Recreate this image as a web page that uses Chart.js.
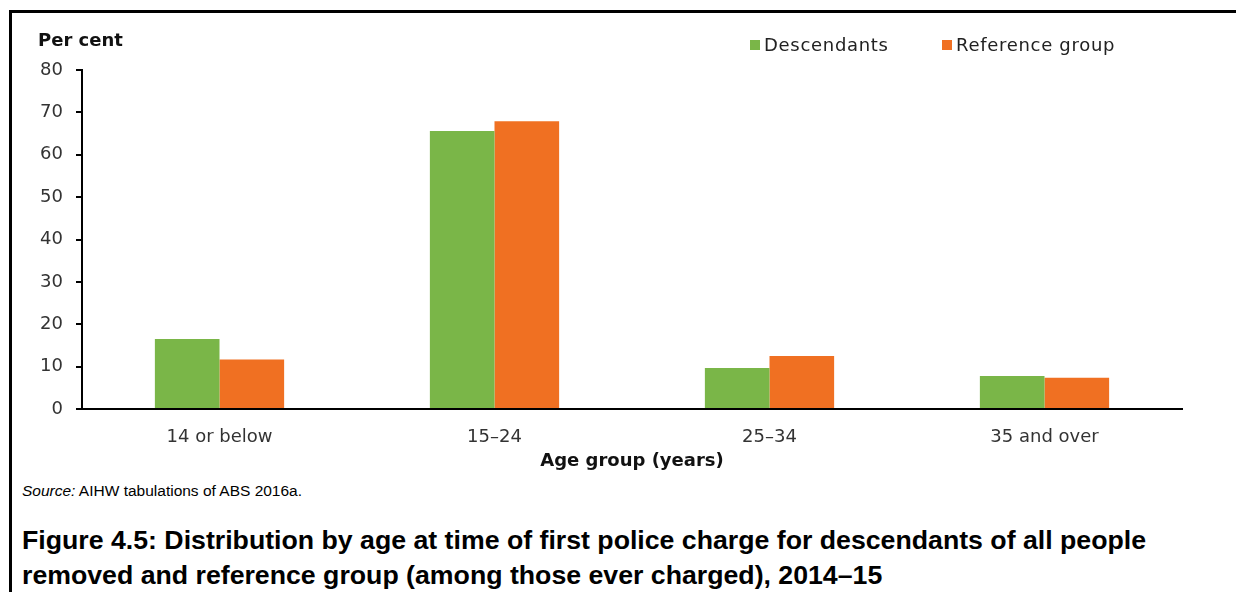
<!DOCTYPE html>
<html>
<head>
<meta charset="utf-8">
<script src="https://cdn.jsdelivr.net/npm/chart.js@4"></script>
<style>
  body { margin: 0; background: #fff; width: 1236px; height: 592px; overflow: hidden; position: relative; }
  .frame { position: absolute; left: 9px; top: 10px; width: 1240px; height: 600px; border-top: 3px solid #000; border-left: 3px solid #000; }
  #chartBox { position: absolute; left: 0; top: 0; width: 1236px; height: 480px; }
  .ylab { position: absolute; left: 38px; top: 29px; font: bold 18px "DejaVu Sans", sans-serif; color: #111; }
  .legend { position: absolute; top: 34px; font: 18px "DejaVu Sans", sans-serif; letter-spacing: 0.7px; color: #222; }
  .legend span.box { display: inline-block; width: 10px; height: 10px; margin-right: 4px; vertical-align: 1px; }
  .source { position: absolute; left: 22px; top: 482px; font: 15.5px "Liberation Sans", Arial, sans-serif; color: #000; }
  .caption { position: absolute; left: 22px; top: 523px; white-space: nowrap; font: bold 26.7px/35px "Liberation Sans", Arial, sans-serif; color: #000; }
</style>
</head>
<body>
<div class="frame"></div>
<div id="chartBox"><canvas id="myChart" width="1236" height="480"></canvas></div>
<div class="ylab">Per cent</div>
<div class="legend" style="left:750px"><span class="box" style="background:#7ab648"></span>Descendants</div>
<div class="legend" style="left:942px"><span class="box" style="background:#f07022"></span>Reference group</div>
<div class="source"><i>Source:</i> AIHW tabulations of ABS 2016a.</div>
<div class="caption">Figure 4.5: Distribution by age at time of first police charge for descendants of all people<br>removed and reference group (among those ever charged), 2014–15</div>
<script>
// 연령대별 첫 기소 비율
const ageGroups = ["14 or below", "15–24", "25–34", "35 and over"];
const descendants = [16.5, 65.6, 9.7, 7.8];
const referenceGroup = [11.7, 67.9, 12.5, 7.4];
const yTicks = [0, 10, 20, 30, 40, 50, 60, 70, 80];

const greenColor = "#7ab648";
const orangeColor = "#f07022";

const ctx = document.querySelector("#myChart").getContext("2d");
const myChart = new Chart(ctx, {
  type: "bar",
  data: {
    labels: ageGroups,
    datasets: [
      {
        label: "Descendants",
        data: descendants,
        backgroundColor: greenColor,
        categoryPercentage: 0.47,
        barPercentage: 1,
      },
      {
        label: "Reference group",
        data: referenceGroup,
        backgroundColor: orangeColor,
        categoryPercentage: 0.47,
        barPercentage: 1,
      },
    ],
  },
  options: {
    responsive: false,
    animation: false,
    devicePixelRatio: 1,
    layout: { padding: { left: 0, top: 70, right: 54, bottom: 8 } },
    plugins: {
      legend: { display: false },
      tooltip: { enabled: false },
    },
    scales: {
      x: {
        grid: { display: false },
        border: { display: true, color: "#000", width: 2 },
        ticks: {
          padding: 10,
          color: "#333",
          font: { family: "DejaVu Sans", size: 18 },
        },
        title: {
          display: true,
          text: "Age group (years)",
          color: "#111",
          padding: { top: 0, bottom: 0 },
          font: { family: "DejaVu Sans", size: 18, weight: "bold" },
        },
        afterFit: (scale) => {
          scale.height = 63;
        },
      },
      y: {
        min: 0,
        max: 80,
        afterBuildTicks: (scale) => {
          scale.ticks = yTicks.map((v) => ({ value: v }));
        },
        grid: {
          drawOnChartArea: false,
          drawTicks: true,
          tickLength: 6,
          color: "#000",
          lineWidth: 2,
        },
        border: { display: true, color: "#000", width: 2 },
        ticks: {
          padding: 13,
          color: "#333",
          font: { family: "DejaVu Sans", size: 18 },
        },
        afterFit: (scale) => {
          scale.width = 82;
        },
      },
    },
  },
});
</script>
</body>
</html>
